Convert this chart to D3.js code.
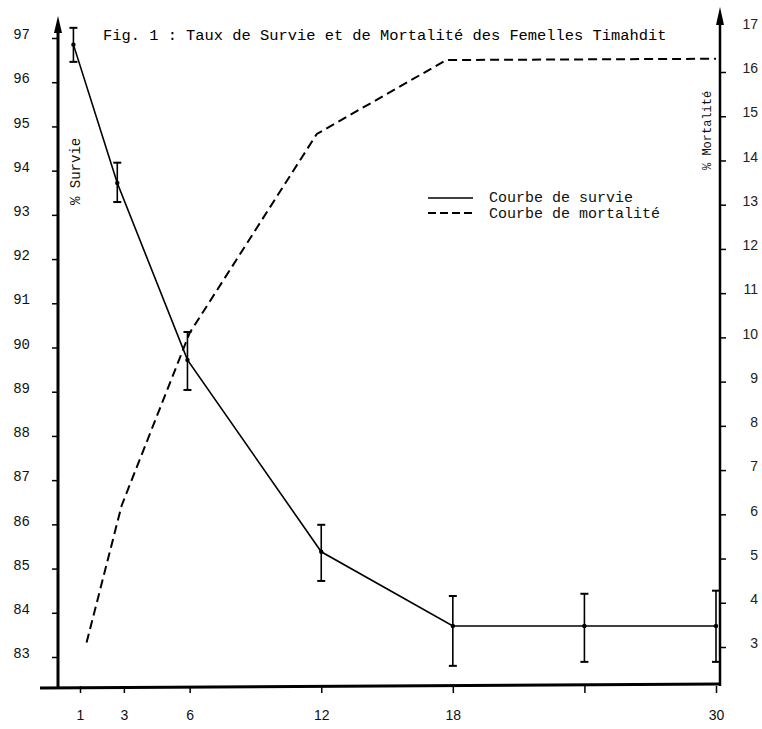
<!DOCTYPE html>
<html>
<head>
<meta charset="utf-8">
<script src="https://cdn.jsdelivr.net/npm/d3@7"></script>
<style>
  body { margin: 0; background: #fff; }
  svg { display: block; }
  .mono { font-family: "Liberation Mono", "DejaVu Sans Mono", monospace; }
</style>
</head>
<body>
<div id="chart"></div>
<script>
// mois (abscisse) et etiquettes
var moisTicks = [1, 3, 6, 12, 18, 24, 30];
var moisEtiquettes = ["1", "3", "6", "12", "18", "", "30"];

// courbe de survie (%), avec barres d'erreur
var survieMois = [0.7, 2.7, 5.9, 12, 18, 24, 30];
var survie = [96.85, 93.72, 89.72, 85.38, 83.70, 83.70, 83.70];
var survieHaut = [97.23, 94.18, 90.35, 85.99, 84.38, 84.43, 84.50];
var survieBas = [96.46, 93.29, 89.04, 84.72, 82.80, 82.89, 82.89];

// courbe de mortalite (%)
var mortaliteMois = [1.3, 2.9, 6, 11.8, 17.7, 30];
var mortalite = [3.1, 6.2, 10.1, 14.6, 16.27, 16.3];

// graduations
var survieTicks = [83, 84, 85, 86, 87, 88, 89, 90, 91, 92, 93, 94, 95, 96, 97];
var mortaliteTicks = [3, 4, 5, 6, 7, 8, 9, 10, 11, 12, 13, 14, 15, 16, 17];

var width = 762, height = 729;
var axeGauche = 58, axeDroit = 720, axeBas = 686;

var svg = d3.select('#chart')
    .append('svg')
    .attr('width', width)
    .attr('height', height);

var xScale = d3.scaleLinear().domain([1, 30]).range([80, 716]);
var ySurvie = d3.scaleLinear().domain([83, 97]).range([657, 38]);
var yMort = d3.scaleLinear().domain([3, 16]).range([647, 72]);

// axe gauche
var gAxeG = svg.append('g')
    .attr('transform', `translate(${axeGauche},0)`)
    .call(d3.axisLeft(ySurvie).tickValues(survieTicks).tickSize(6).tickPadding(22).tickFormat(d3.format('d')));
gAxeG.select('.domain').remove();
gAxeG.selectAll('line').attr('stroke', '#000').attr('stroke-width', 1.5);
gAxeG.selectAll('text')
    .attr('class', 'mono')
    .style('font-size', '14px')
    .attr('fill', '#111')
    .attr('dy', '0.05em');

// axe droit
var gAxeD = svg.append('g')
    .attr('transform', `translate(${axeDroit},0)`)
    .call(d3.axisRight(yMort).tickValues(mortaliteTicks).tickSize(6).tickFormat(d3.format('d')));
gAxeD.select('.domain').remove();
gAxeD.selectAll('line').attr('stroke', '#000').attr('stroke-width', 1.5)
    .filter(d => d === 17).remove();
gAxeD.selectAll('text')
    .style('font-family', '"Liberation Sans", sans-serif')
    .style('font-size', '14px')
    .attr('fill', '#222')
    .style('text-anchor', 'end')
    .attr('x', 38)
    .attr('dy', '0.05em');

// axe bas
var gAxeB = svg.append('g')
    .attr('transform', `translate(0,${axeBas})`)
    .call(d3.axisBottom(xScale).tickValues(moisTicks).tickSize(7).tickPadding(17)
        .tickFormat((d, i) => moisEtiquettes[i]));
gAxeB.select('.domain').remove();
gAxeB.selectAll('line').attr('stroke', '#000').attr('stroke-width', 1.5);
gAxeB.selectAll('text')
    .style('font-family', '"Liberation Sans Narrow", "Liberation Sans", sans-serif')
    .style('font-size', '14px')
    .attr('fill', '#111');

// lignes des axes + fleches
svg.append('line').attr('x1', axeGauche).attr('x2', axeGauche).attr('y1', 28).attr('y2', axeBas + 3)
    .attr('stroke', '#000').attr('stroke-width', 3);
svg.append('line').attr('x1', axeDroit).attr('x2', axeDroit).attr('y1', 20).attr('y2', axeBas)
    .attr('stroke', '#000').attr('stroke-width', 2.5);
svg.append('line').attr('x1', 40).attr('x2', axeDroit + 1).attr('y1', axeBas + 2).attr('y2', axeBas - 2)
    .attr('stroke', '#000').attr('stroke-width', 3);
svg.append('path').attr('d', `M${axeGauche},16 L${axeGauche - 4},33 L${axeGauche + 4},33 Z`).attr('fill', '#000');
svg.append('path').attr('d', `M${axeDroit},7 L${axeDroit - 4},25 L${axeDroit + 4},25 Z`).attr('fill', '#000');

// courbe de mortalite (tirets)
var mortData = mortaliteMois.map((m, i) => ({ m: m, v: mortalite[i] }));
svg.append('path')
    .datum(mortData)
    .attr('fill', 'none')
    .attr('stroke', '#000')
    .attr('stroke-width', 2)
    .attr('stroke-dasharray', '9,5')
    .attr('d', d3.line().x(d => xScale(d.m)).y(d => yMort(d.v)));

// courbe de survie (trait plein)
var survData = survieMois.map((m, i) => ({ m: m, v: survie[i], h: survieHaut[i], b: survieBas[i] }));
svg.append('path')
    .datum(survData)
    .attr('fill', 'none')
    .attr('stroke', '#000')
    .attr('stroke-width', 1.6)
    .attr('d', d3.line().x(d => xScale(d.m)).y(d => ySurvie(d.v)));

// barres d'erreur
var err = svg.selectAll('.err').data(survData).enter().append('g').attr('class', 'err');
err.append('line')
    .attr('x1', d => xScale(d.m)).attr('x2', d => xScale(d.m))
    .attr('y1', d => ySurvie(d.h)).attr('y2', d => ySurvie(d.b))
    .attr('stroke', '#000').attr('stroke-width', 1.6);
err.append('line')
    .attr('x1', d => xScale(d.m) - 4).attr('x2', d => xScale(d.m) + 4)
    .attr('y1', d => ySurvie(d.h)).attr('y2', d => ySurvie(d.h))
    .attr('stroke', '#000').attr('stroke-width', 2);
err.append('line')
    .attr('x1', d => xScale(d.m) - 4).attr('x2', d => xScale(d.m) + 4)
    .attr('y1', d => ySurvie(d.b)).attr('y2', d => ySurvie(d.b))
    .attr('stroke', '#000').attr('stroke-width', 2);
err.append('circle')
    .attr('cx', d => xScale(d.m)).attr('cy', d => ySurvie(d.v)).attr('r', 2.2)
    .attr('fill', '#000');

// titre
svg.append('text')
    .attr('class', 'mono')
    .attr('x', 103).attr('y', 40)
    .style('font-size', '15.4px')
    .attr('fill', '#000')
    .text('Fig. 1 : Taux de Survie et de Mortalité des Femelles Timahdit');

// titres des axes
svg.append('text')
    .attr('class', 'mono')
    .attr('transform', 'translate(80,205) rotate(-90)')
    .style('font-size', '14px')
    .attr('fill', '#111')
    .text('% Survie');
svg.append('text')
    .attr('class', 'mono')
    .attr('transform', 'translate(711,170) rotate(-90)')
    .style('font-size', '12px')
    .attr('fill', '#111')
    .text('% Mortalité');

// legende
svg.append('line').attr('x1', 428).attr('x2', 473).attr('y1', 198).attr('y2', 198)
    .attr('stroke', '#000').attr('stroke-width', 1.6);
svg.append('line').attr('x1', 428).attr('x2', 473).attr('y1', 213).attr('y2', 213)
    .attr('stroke', '#000').attr('stroke-width', 1.8).attr('stroke-dasharray', '8,4');
svg.append('text').attr('class', 'mono').attr('x', 489).attr('y', 202)
    .style('font-size', '15px').attr('fill', '#111').text('Courbe de survie');
svg.append('text').attr('class', 'mono').attr('x', 489).attr('y', 218)
    .style('font-size', '15px').attr('fill', '#111').text('Courbe de mortalité');
</script>
</body>
</html>
